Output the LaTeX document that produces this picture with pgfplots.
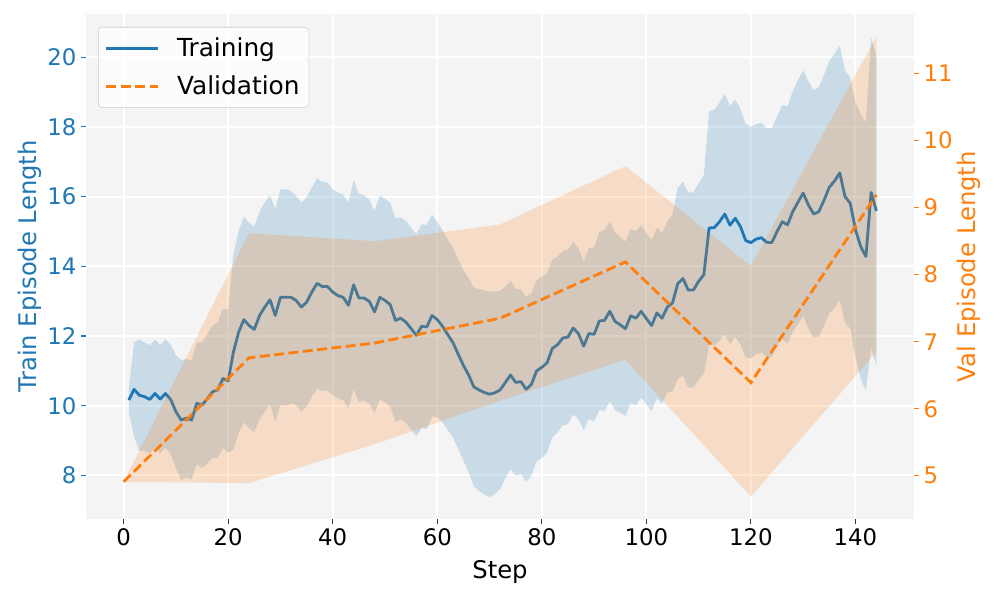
\documentclass[border=0pt]{standalone}
\usepackage{pgfplots}
\pgfplotsset{compat=1.18}
\usepackage{pgfplotstable}
\usepgfplotslibrary{fillbetween}
\usepackage{fontspec}
\setmainfont{DejaVu Sans}

\definecolor{tabblue}{HTML}{1F77B4}
\definecolor{taborange}{HTML}{FF7F0E}
\definecolor{panel}{HTML}{F4F4F4}

% legend sample: a short line followed by some room before the text
\pgfplotsset{legend image code/.code={\draw (0pt,0pt) -- (38.8pt,0pt); \path (50pt,0pt);}}

% training episode length: rolling mean and std per step
\pgfplotstableread{
step mean std
1 10.16 0.35
2 10.47 1.35
3 10.30 1.60
4 10.26 1.55
5 10.18 1.55
6 10.35 1.55
7 10.19 1.55
8 10.35 1.55
9 10.18 1.58
10 9.83 1.62
11 9.59 1.72
12 9.64 1.70
13 9.59 1.70
14 10.07 1.75
15 10.02 1.80
16 10.20 1.85
17 10.40 1.90
18 10.45 1.95
19 10.78 2.00
20 10.71 2.05
21 11.54 2.80
22 12.11 2.90
23 12.47 2.95
24 12.30 2.95
25 12.19 2.95
26 12.59 2.98
27 12.83 3.00
28 13.04 3.00
29 12.59 3.05
30 13.11 3.10
31 13.11 3.10
32 13.11 3.05
33 13.02 3.00
34 12.83 3.00
35 12.97 3.00
36 13.26 3.00
37 13.51 3.02
38 13.42 3.00
39 13.42 2.98
40 13.26 2.95
41 13.16 2.95
42 13.11 2.95
43 12.88 2.95
44 13.47 3.00
45 13.09 2.98
46 13.09 2.95
47 12.99 2.92
48 12.69 2.90
49 13.11 2.92
50 13.02 2.92
51 12.90 2.92
52 12.45 2.92
53 12.51 2.90
54 12.40 2.90
55 12.21 2.90
56 12.02 2.90
57 12.28 2.92
58 12.26 2.93
59 12.59 2.90
60 12.47 2.80
61 12.28 2.76
62 12.04 2.73
63 11.81 2.72
64 11.48 2.72
65 11.16 2.73
66 10.88 2.78
67 10.54 2.85
68 10.45 2.90
69 10.38 2.93
70 10.33 2.95
71 10.37 2.90
72 10.45 2.85
73 10.66 2.75
74 10.88 2.70
75 10.67 2.68
76 10.69 2.65
77 10.47 2.65
78 10.61 2.62
79 11.00 2.60
80 11.10 2.60
81 11.23 2.58
82 11.64 2.55
83 11.75 2.52
84 11.94 2.50
85 11.97 2.50
86 12.23 2.48
87 12.07 2.45
88 11.71 2.42
89 12.07 2.45
90 12.05 2.50
91 12.43 2.55
92 12.45 2.60
93 12.71 2.58
94 12.42 2.55
95 12.32 2.52
96 12.21 2.50
97 12.58 2.50
98 12.51 2.50
99 12.71 2.48
100 12.50 2.46
101 12.30 2.45
102 12.66 2.45
103 12.51 2.45
104 12.83 2.45
105 12.95 2.55
106 13.50 2.75
107 13.65 2.78
108 13.32 2.80
109 13.32 2.80
110 13.57 2.82
111 13.76 2.85
112 15.10 3.35
113 15.11 3.38
114 15.28 3.42
115 15.50 3.45
116 15.18 3.42
117 15.38 3.40
118 15.14 3.38
119 14.74 3.35
120 14.68 3.32
121 14.78 3.30
122 14.82 3.30
123 14.69 3.28
124 14.68 3.28
125 15.00 3.30
126 15.28 3.35
127 15.19 3.40
128 15.57 3.45
129 15.84 3.50
130 16.10 3.52
131 15.76 3.55
132 15.50 3.55
133 15.57 3.58
134 15.90 3.60
135 16.27 3.62
136 16.45 3.65
137 16.68 3.65
138 16.00 3.62
139 15.81 3.60
140 15.05 3.65
141 14.57 3.80
142 14.28 3.85
143 16.12 4.45
144 15.59 4.45
}\trainlen

% validation episode length, evaluated every 24 steps
\pgfplotstableread{
step mean
0 4.91
24 6.76
48 6.98
72 7.35
96 8.19
120 6.39
144 9.19
}\vallen

% validation spread: upper bound left to right, then lower bound right to left
\pgfplotstableread{
step bound
0 4.91
24 8.62
48 8.50
72 8.75
96 9.62
120 8.13
144 11.55
144 6.85
120 4.69
96 6.73
72 6.12
48 5.47
24 4.89
0 4.91
}\valband

\begin{document}
\begin{tikzpicture}

% left axis: training
\begin{axis}[
  at={(0pt,0pt)}, anchor=south west,
  scale only axis, width=621pt, height=379pt,
  xmin=-7.2, xmax=151.2, ymin=6.74, ymax=21.24,
  xtick={0,20,...,140}, ytick={8,10,...,20},
  tick pos=left, tick align=outside,
  major tick length=3.65pt,
  every tick/.style={line width=0.8pt},
  every x tick/.append style={draw=black!80},
  every y tick/.append style={draw=tabblue},
  axis line style={draw=none},
  axis background/.style={fill=panel},
  grid=major, major grid style={white, line width=1.5pt},
  /pgf/number format/assume math mode=true,
  ticklabel style={font=\fontsize{17.1}{20}\selectfont},
  yticklabel style={color=tabblue},
  xlabel={Step}, ylabel={Train Episode Length},
  label style={font=\fontsize{18.2}{22}\selectfont},
  xlabel style={at={(axis description cs:0.5,-0.104)}, anchor=center},
  ylabel style={color=tabblue, at={(axis description cs:-0.0676,0.5)}, anchor=center},
]
\addplot[draw=none, name path=tu, forget plot]
  table[x=step, y expr=\thisrow{mean}+\thisrow{std}] {\trainlen};
\addplot[draw=none, name path=tl, forget plot]
  table[x=step, y expr=\thisrow{mean}-\thisrow{std}] {\trainlen};
\addplot[fill=tabblue, fill opacity=0.2, draw=none, forget plot]
  fill between[of=tu and tl];
\addplot[tabblue, line width=2.1pt, line join=round] table[x=step, y=mean] {\trainlen};
\end{axis}

% right axis: validation, drawn over the training curve
\begin{axis}[
  at={(0pt,0pt)}, anchor=south west,
  scale only axis, width=621pt, height=379pt,
  xmin=-7.2, xmax=151.2, ymin=4.35, ymax=11.89,
  axis x line=none, axis y line*=right,
  axis line style={draw=none},
  ytick={5,6,...,11},
  tick align=outside, major tick length=3.65pt,
  every tick/.style={line width=0.8pt, draw=taborange},
  /pgf/number format/assume math mode=true,
  ticklabel style={font=\fontsize{17.1}{20}\selectfont},
  yticklabel style={color=taborange},
  ylabel={Val Episode Length},
  label style={font=\fontsize{18.2}{22}\selectfont},
  ylabel style={color=taborange, at={(axis description cs:1.0664,0.5)}, anchor=center},
  legend cell align=left,
  legend style={at={(axis description cs:0,1)}, anchor=north west,
    xshift=9pt, yshift=-9.75pt,
    draw=black!20, rounded corners=3pt, fill=white, fill opacity=0.8, text opacity=1,
    font=\fontsize{18.6}{22}\selectfont,
    inner xsep=5pt, inner ysep=6pt, row sep=9pt},
]
\addlegendimage{tabblue, line width=2.1pt}
\addlegendentry{Training}
\addplot[fill=taborange, fill opacity=0.2, draw=none, forget plot]
  table[x=step, y=bound] {\valband};
\addplot[taborange, line width=2.1pt, dash pattern=on 7.5pt off 3.3pt]
  table[x=step, y=mean] {\vallen};
\addlegendentry{Validation}
\end{axis}

% page frame
\pgfresetboundingbox
\path[use as bounding box] (-64.5pt,-59pt) rectangle (682.5pt,389.5pt);
\end{tikzpicture}
\end{document}
